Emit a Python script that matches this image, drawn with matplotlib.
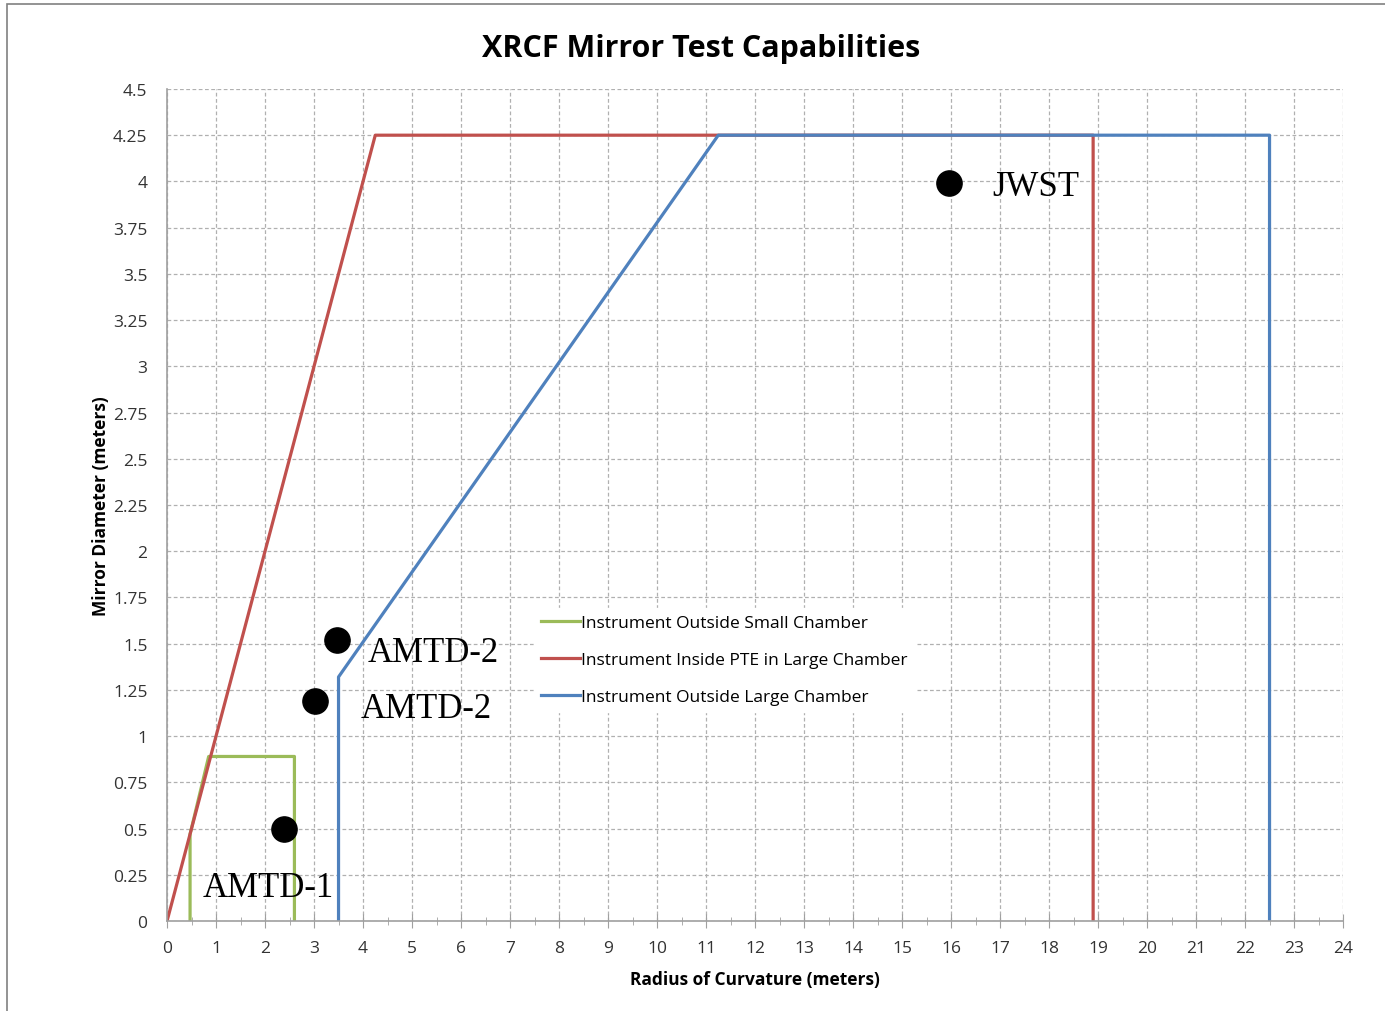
import matplotlib
matplotlib.use("Agg")
import matplotlib.pyplot as plt
from matplotlib.ticker import MultipleLocator, FuncFormatter
from matplotlib.patches import Rectangle

# Capability envelopes (radius of curvature, mirror diameter), meters
small_x = [0.47, 0.47, 0.85, 2.6, 2.6]
small_y = [0.0, 0.47, 0.89, 0.89, 0.0]
pte_x = [0.0, 4.25, 18.9, 18.9]
pte_y = [0.0, 4.25, 4.25, 0.0]
large_x = [3.5, 3.5, 11.25, 22.5, 22.5]
large_y = [0.0, 1.32, 4.25, 4.25, 0.0]

# Mirrors tested / planned
mirror_names = ["JWST", "AMTD-2", "AMTD-2", "AMTD-1"]
mirror_roc = [15.95, 3.47, 3.02, 2.39]
mirror_diam = [3.99, 1.52, 1.19, 0.50]
label_x = [16.85, 4.1, 3.95, 0.72]
label_y = [3.97, 1.45, 1.15, 0.18]

GREEN = "#9bbb59"
RED = "#c0504d"
BLUE = "#4f81bd"
SANS = ["Open Sans", "DejaVu Sans"]

fig = plt.figure(figsize=(13.85, 10.12), dpi=100)
ax = fig.add_axes([0.1206, 0.0889, 0.8491, 0.8222])

ax.plot(small_x, small_y, color=GREEN, lw=2.3, label="Instrument Outside Small Chamber")
ax.plot(pte_x, pte_y, color=RED, lw=2.3, label="Instrument Inside PTE in Large Chamber")
ax.plot(large_x, large_y, color=BLUE, lw=2.3, label="Instrument Outside Large Chamber")

ax.scatter(mirror_roc, mirror_diam, s=330, color="black", zorder=5)
for name, lx, ly in zip(mirror_names, label_x, label_y):
    ax.text(lx, ly, name, family=["Liberation Serif"], fontsize=25,
            ha="left", va="center", color="black", zorder=6)

ax.set_xlim(0, 24)
ax.set_ylim(0, 4.5)
ax.xaxis.set_major_locator(MultipleLocator(1))
ax.xaxis.set_minor_locator(MultipleLocator(0.5))
ax.yaxis.set_major_locator(MultipleLocator(0.25))
ax.yaxis.set_major_formatter(FuncFormatter(lambda v, p: f"{v:g}"))

ax.grid(True, which="major", color="#b0b0b0", linestyle=(0, (3, 2)), lw=0.9)
ax.set_axisbelow(True)
for s in ["top", "right"]:
    ax.spines[s].set_visible(False)
for s in ["left", "bottom"]:
    ax.spines[s].set_color("#a0a0a0")
    ax.spines[s].set_linewidth(1.2)
ax.tick_params(axis="x", which="major", direction="inout", length=10, color="#a0a0a0", pad=9)
ax.tick_params(axis="x", which="minor", direction="inout", length=6, color="#a0a0a0")
ax.tick_params(axis="y", which="major", length=0, pad=14)
for lab in ax.get_xticklabels() + ax.get_yticklabels():
    lab.set_family(SANS)
    lab.set_fontsize(12.5)
    lab.set_color("#333333")

ax.set_title("XRCF Mirror Test Capabilities", family=SANS, fontsize=22,
             fontweight="bold", pad=24, x=0.454)
ax.set_xlabel("Radius of Curvature (meters)", family=SANS, fontsize=12.5,
              fontweight="bold", labelpad=10)
ax.set_ylabel("Mirror Diameter (meters)", family=SANS, fontsize=12.5,
              fontweight="bold", labelpad=2)

leg = ax.legend(loc="upper left", bbox_to_anchor=(0.305, 0.387), frameon=True,
                prop={"family": SANS, "size": 12.5}, handlelength=2.2,
                handletextpad=0.1, labelspacing=1.2, borderpad=0.4,
                fancybox=False)
leg.get_frame().set_edgecolor("white")
leg.get_frame().set_facecolor("white")
leg.get_frame().set_alpha(1)

fig.patches.append(Rectangle((0.005, -0.01), 1.1, 1.005, transform=fig.transFigure,
                             fill=False, edgecolor="#808080", lw=1.2))

fig.savefig("out.png", dpi=100)
